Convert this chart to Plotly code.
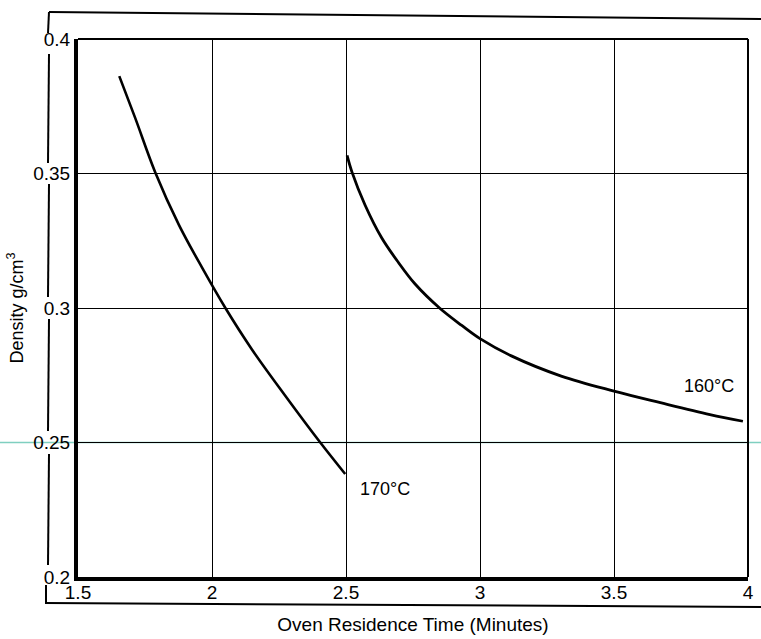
import plotly.graph_objects as go

# Data
x_170 = [1.654, 1.714, 1.788, 1.876, 1.963, 2.05, 2.149, 2.274, 2.404, 2.497]
y_170 = [0.3862, 0.3705, 0.3505, 0.3310, 0.3150, 0.3000, 0.2846, 0.2673, 0.2500, 0.2383]

x_160 = [2.504, 2.522, 2.571, 2.633, 2.695, 2.757, 2.849, 2.932, 3.0, 3.117, 3.303, 3.5, 3.673, 3.858, 3.981]
y_160 = [0.3567, 0.3506, 0.3383, 0.3261, 0.3170, 0.3090, 0.3000, 0.2935, 0.2886, 0.2822, 0.2747, 0.2691, 0.2648, 0.2604, 0.2579]

x_ticks = [1.5, 2, 2.5, 3, 3.5, 4]
x_tick_text = ["1.5", "2", "2.5", "3", "3.5", "4"]
y_ticks = [0.2, 0.25, 0.3, 0.35, 0.4]
y_tick_text = ["0.2", "0.25", "0.3", "0.35", "0.4"]

labels = ["170°C", "160°C"]
label_x = [2.545, 3.753]
label_y = [0.2327, 0.271]

FONT = "Liberation Sans, Arial, sans-serif"

fig = go.Figure()
fig.add_trace(go.Scatter(x=x_170, y=y_170, mode="lines",
                         line=dict(color="black", width=2.6, shape="spline", smoothing=1.0),
                         showlegend=False, hoverinfo="skip"))
fig.add_trace(go.Scatter(x=x_160, y=y_160, mode="lines",
                         line=dict(color="black", width=2.8, shape="spline", smoothing=1.0),
                         showlegend=False, hoverinfo="skip"))

for t, lx, ly in zip(labels, label_x, label_y):
    fig.add_annotation(x=lx, y=ly, text=t, showarrow=False, xanchor="left", yanchor="middle",
                       font=dict(family=FONT, size=18, color="black"))

W, H = 761, 639
L, R, T, B = 78, 13, 39, 62
pw, ph = W - L - R, H - T - B

def px(xp):
    return (xp - L) / pw

def py(yp):
    return (H - B - yp) / ph

shapes = []
# scanner tint line across the 0.25 grid
shapes.append(dict(type="line", xref="paper", yref="y", x0=px(0), x1=px(761), y0=0.25, y1=0.25,
                   line=dict(color="#7fcfc0", width=1.5), layer="below"))
# top and right plot borders (thin)
shapes.append(dict(type="line", xref="paper", yref="paper", x0=0, x1=1, y0=1, y1=1,
                   line=dict(color="black", width=2)))
shapes.append(dict(type="line", xref="paper", yref="paper", x0=1, x1=1, y0=0, y1=1,
                   line=dict(color="black", width=2)))
# outer frame
shapes.append(dict(type="line", xref="paper", yref="paper", x0=px(49), x1=px(761), y0=py(12), y1=py(19),
                   line=dict(color="black", width=2)))
shapes.append(dict(type="line", xref="paper", yref="paper", x0=px(45), x1=px(761), y0=py(603), y1=py(607),
                   line=dict(color="black", width=2)))
for a, b in [(12, 33), (54, 163), (184, 297), (319, 431), (454, 565)]:
    shapes.append(dict(type="line", xref="paper", yref="paper", x0=px(49), x1=px(48), y0=py(a), y1=py(b),
                       line=dict(color="black", width=2)))
shapes.append(dict(type="line", xref="paper", yref="paper", x0=px(46), x1=px(46), y0=py(585), y1=py(603),
                   line=dict(color="black", width=2)))

fig.update_layout(
    width=W, height=H,
    margin=dict(l=L, r=R, t=T, b=B, autoexpand=False),
    paper_bgcolor="white", plot_bgcolor="white",
    font=dict(family=FONT, size=19, color="black"),
    shapes=shapes,
    xaxis=dict(range=[1.5, 4], tickvals=x_ticks, ticktext=x_tick_text, showgrid=True,
               gridcolor="black", gridwidth=1.2, showline=True, linecolor="black", linewidth=4,
               zeroline=False, ticks="", ticklabelstandoff=-5,
               title=dict(text="Oven Residence Time (Minutes)", font=dict(size=19), standoff=17),
               tickfont=dict(size=19)),
    yaxis=dict(range=[0.2, 0.4], tickvals=y_ticks, ticktext=y_tick_text, showgrid=True,
               gridcolor="black", gridwidth=1.2, showline=True, linecolor="black", linewidth=4,
               zeroline=False, ticks="", ticklabelstandoff=0,
               title=dict(text="Density g/cm<sup>3</sup>", font=dict(size=18), standoff=6),
               tickfont=dict(size=19)),
)

fig.write_html("out.html", config={"displayModeBar": False},
               post_script="document.body.style.margin='0';document.documentElement.style.overflow='hidden';")
